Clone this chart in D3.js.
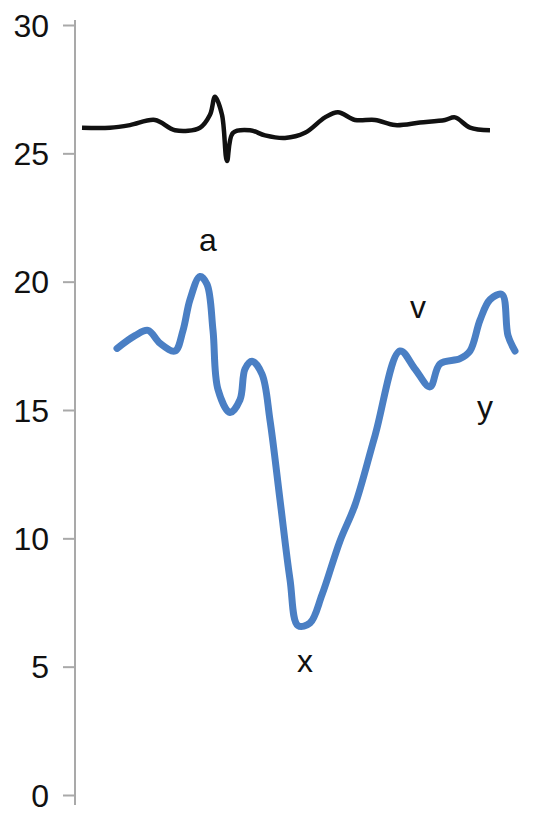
<!DOCTYPE html>
<html><head><meta charset="utf-8">
<script src="https://cdn.jsdelivr.net/npm/d3@7"></script>
<style>body{margin:0;background:#fff}text{font-family:"Liberation Sans",Arial,sans-serif}</style>
</head><body>
<script>
// time in sample units, pressure values
var upperT = [82,110,130,155,175,200,210,215,222,227,233,250,265,285,305,325,338,355,375,395,420,445,455,470,490];
var upperV = [26.0,26.0,26.1,26.3,25.9,26.0,26.5,27.2,26.5,24.7,25.8,25.9,25.7,25.6,25.8,26.4,26.6,26.3,26.3,26.1,26.2,26.3,26.4,26.0,25.9];
var lowerT = [117,135,148,160,175,183,190,200,207,213,218,230,240,245,252,262,270,280,290,298,310,322,340,355,375,400,415,430,440,460,470,480,490,502,508,515];
var lowerV = [17.4,17.9,18.1,17.6,17.3,18.1,19.3,20.2,19.9,18.1,15.8,14.9,15.4,16.6,16.9,16.4,14.6,11.5,8.4,6.6,6.7,7.8,9.9,11.3,14.0,17.3,16.6,15.9,16.8,17.0,17.3,18.5,19.3,19.5,17.9,17.3];
var waveLabels = ['a','v','x','y'];
var labelT = [208,418,305,485];
var labelV = [21.2,18.6,4.8,14.7];
var yTicks = [0,5,10,15,20,25,30];

var svg = d3.select('body').append('svg').attr('width',534).attr('height',828);
var x = d3.scaleLinear().domain([0,534]).range([0,534]);
var y = d3.scaleLinear().domain([0,30]).range([795,25]);

var yAxis = d3.axisLeft(y).tickValues(yTicks).tickSize(12).tickPadding(14).tickSizeOuter(0);
var g = svg.append('g').attr('transform','translate(75,0)').call(yAxis);
g.select('.domain').attr('stroke','#a9a9a9').attr('stroke-width',2).attr('d','M0,20V805');
g.selectAll('.tick line').attr('stroke','#a9a9a9').attr('stroke-width',2);
g.selectAll('.tick text').attr('font-size',32).attr('fill','#111').attr('dy','0.35em');

var line = d3.line().curve(d3.curveCatmullRom);
svg.append('path')
  .attr('d', line(upperT.map(function (t, i) { return [x(t), y(upperV[i])]; })))
  .attr('fill','none').attr('stroke','#111').attr('stroke-width',4.5).attr('stroke-linejoin','round');
svg.append('path')
  .attr('d', line(lowerT.map(function (t, i) { return [x(t), y(lowerV[i])]; })))
  .attr('fill','none').attr('stroke','#4a7fc4').attr('stroke-width',7).attr('stroke-linecap','round').attr('stroke-linejoin','round');

svg.selectAll('.wl').data(waveLabels).enter().append('text')
  .attr('x', function (d, i) { return x(labelT[i]); })
  .attr('y', function (d, i) { return y(labelV[i]); })
  .attr('text-anchor','middle').attr('font-size',32).attr('fill','#111')
  .text(function (d) { return d; });
</script>
</body></html>
